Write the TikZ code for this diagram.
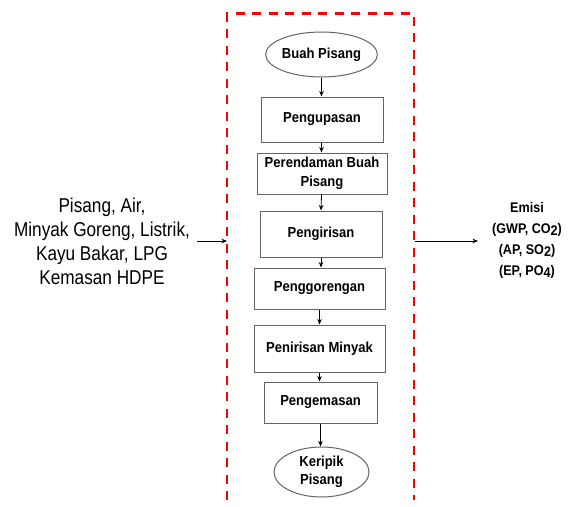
\documentclass[tikz,border=0pt]{standalone}
\usepackage{fontspec}
\setmainfont{Liberation Sans}
\newfontfamily\boxfont[FakeStretch=0.9]{Liberation Sans}
\newfontfamily\inputfont[FakeStretch=0.86]{Liberation Sans}
\usetikzlibrary{arrows.meta,shapes.geometric}
\definecolor{framered}{RGB}{250,0,0}
\definecolor{edgegray}{RGB}{100,100,100}
\begin{document}
\begin{tikzpicture}[x=1pt,y=-1pt,
  procbox/.style={draw=edgegray, line width=1pt, inner sep=0pt, align=center,
    font=\boxfont\bfseries\fontsize{14.5}{18.5}\selectfont},
  termnode/.style={ellipse, draw=edgegray, line width=1pt, inner sep=0pt, align=center,
    font=\boxfont\bfseries\fontsize{14.5}{18.5}\selectfont},
  flowarrow/.style={draw=black, line width=0.8pt, -{Stealth[length=5.5pt,width=4.5pt]}},
  frameline/.style={draw=framered, line width=2.7pt, dash pattern=on 9pt off 7.5pt}
]
\useasboundingbox (0,0) rectangle (569,506);

% frame
\draw[frameline] (227,500) -- (227,13.5) -- (414,13.5) -- (414,500);
\coordinate (inL) at (227,241);
\coordinate (outR) at (415,241);
\coordinate (inStart) at (197,241);
\coordinate (outEnd) at (478,241);

% process chain
\node[termnode, minimum width=95pt, minimum height=45pt] (buah) at (321.5,54.5) {Buah Pisang};
\node[procbox, minimum width=122pt, minimum height=45pt] (kupas) at (322,119.5) {Pengupasan};
\node[procbox, minimum width=130pt, minimum height=41pt] (rendam) at (322,173.5) {Perendaman Buah\\Pisang};
\node[procbox, minimum width=122pt, minimum height=46pt] (iris) at (321,234) {Pengirisan};
\node[procbox, minimum width=131pt, minimum height=41pt] (goreng) at (319.5,288.5) {Penggorengan};
\node[procbox, minimum width=131pt, minimum height=47pt] (tiris) at (319.5,348.5) {Penirisan Minyak};
\node[procbox, minimum width=113pt, minimum height=41pt] (kemas) at (320.5,402.5) {Pengemasan};
\node[termnode, minimum width=95pt, minimum height=50pt] (keripik) at (321.5,472) {Keripik\\Pisang};

\draw[flowarrow] (buah) -- (buah |- kupas.north);
\draw[flowarrow] (buah |- kupas.south) -- (buah |- rendam.north);
\draw[flowarrow] (buah |- rendam.south) -- (iris.north);
\draw[flowarrow] (iris.south) -- (iris.south |- goreng.north);
\draw[flowarrow] (goreng.south) -- (tiris.north);
\draw[flowarrow] (tiris.south) -- (tiris.south |- kemas.north);
\draw[flowarrow] (kemas.south) -- (kemas.south |- keripik.north);

% inputs
\node[align=center, inner sep=0pt, font=\inputfont\fontsize{20}{24}\selectfont] (inputs) at (102,241)
  {Pisang, Air,\\Minyak Goreng, Listrik,\\Kayu Bakar, LPG\\Kemasan HDPE};
\draw[flowarrow] (inStart) -- (inL);

% outputs
\node[align=center, inner sep=0pt, font=\boxfont\bfseries\fontsize{14}{21}\selectfont] (emisi) at (527,240)
  {Emisi\\(GWP, CO\raisebox{-0.3ex}{2})\\(AP, SO\raisebox{-0.3ex}{2})\\(EP, PO\raisebox{-0.3ex}{4})};
\draw[flowarrow] (outR) -- (outEnd);
\end{tikzpicture}
\end{document}
